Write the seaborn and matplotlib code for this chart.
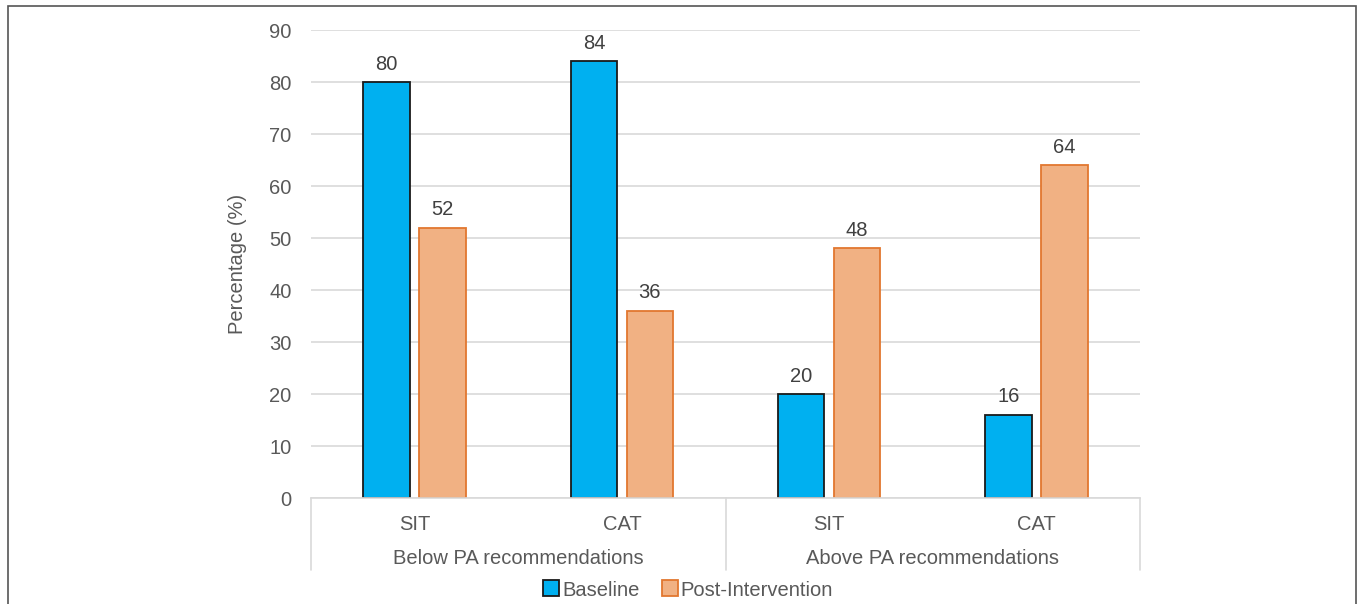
import pandas as pd
import matplotlib.pyplot as plt
import seaborn as sns
from matplotlib.lines import Line2D
from matplotlib.patches import Rectangle

# data
groups = ['Below PA recommendations', 'Above PA recommendations']
subcats = ['SIT', 'CAT']
series = ['Baseline', 'Post-Intervention']
baseline = [80, 84, 20, 16]
post = [52, 36, 48, 64]

keys = [f'{g}|{s}' for g in groups for s in subcats]
df = pd.DataFrame({
    'key': keys * 2,
    'Series': [series[0]] * 4 + [series[1]] * 4,
    'Value': baseline + post,
})

fills = ['#00B0F0', '#F1B183']
edges = ['#1A1A1A', '#E2772F']
txt = '#595959'
fs = 14.5

sns.set_style('white')
plt.rcParams['font.family'] = ['Liberation Sans', 'DejaVu Sans']

fig = plt.figure(figsize=(13.6, 6.04), dpi=100)
ax = fig.add_axes([311 / 1360, 1 - 498 / 604, (1140 - 311) / 1360, 468 / 604])

sns.barplot(data=df, x='key', y='Value', hue='Series', order=keys,
            hue_order=series, palette=fills, saturation=1, width=0.54,
            gap=0.17, linewidth=1.3, ax=ax, legend=False)

for cont, ec in zip(ax.containers, edges):
    for bar in cont:
        bar.set_edgecolor(ec)
    ax.bar_label(cont, padding=6, fontsize=fs, color='#404040')

ax.set_ylim(0, 90)
ax.set_xlim(-0.5, 3.5)
ax.set_yticks(range(0, 91, 10))
ax.yaxis.grid(True, color='#D9D9D9', linewidth=1.2)
ax.set_axisbelow(True)
for side in ['top', 'right', 'left']:
    ax.spines[side].set_visible(False)
ax.spines['bottom'].set_color('#D9D9D9')
ax.spines['bottom'].set_linewidth(1.2)
ax.tick_params(axis='y', length=0, pad=14, labelsize=fs, labelcolor=txt)
ax.tick_params(axis='x', length=0, pad=12, labelsize=fs, labelcolor=txt)
ax.set_xticks(range(4))
ax.set_xticklabels(subcats * 2)
ax.set_xlabel('')
ax.set_ylabel('Percentage (%)', fontsize=fs, color=txt, labelpad=16)

# category table lines and group labels
trans = ax.get_xaxis_transform()
for xv in [-0.5, 1.5, 3.5]:
    ax.plot([xv, xv], [0, -72 / 468], color='#D9D9D9', lw=1.2,
            transform=trans, clip_on=False)
for i, g in enumerate(groups):
    ax.text(2 * i + 0.5, -60 / 468, g, transform=trans, ha='center',
            va='center', fontsize=fs, color=txt)

# legend
handles = [Line2D([], [], marker='s', linestyle='none', markersize=11,
                  markerfacecolor=f, markeredgecolor=e, markeredgewidth=1.3)
           for f, e in zip(fills, edges)]
fig.legend(handles, series, loc='center', bbox_to_anchor=(687 / 1360, 1 - 590 / 604),
           ncol=2, frameon=False, fontsize=fs, handletextpad=0.05,
           columnspacing=1.0, labelcolor=txt, handlelength=1.0)

# outer frame
fig.patches.append(Rectangle((8 / 1360, -0.1), 1348 / 1360, 1.1 - 6 / 604,
                             transform=fig.transFigure, fill=False,
                             edgecolor='#555555', linewidth=1.2))

fig.savefig('out.png', dpi=100)
